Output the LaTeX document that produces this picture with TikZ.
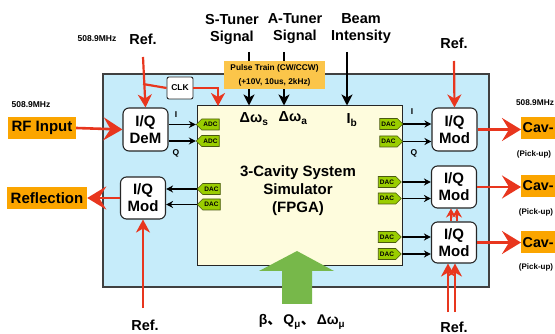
\documentclass[tikz,border=0pt]{standalone}
\usepackage{fontspec}
\setmainfont{Liberation Sans}
\newfontfamily\cjk{Noto Sans CJK SC}
\usetikzlibrary{arrows.meta,shapes.symbols}
\definecolor{bluefill}{HTML}{C6ECFA}
\definecolor{creamfill}{HTML}{FEFCDD}
\definecolor{myorange}{HTML}{FBA500}
\definecolor{pulseor}{HTML}{FBC54A}
\definecolor{tagg}{HTML}{9ACD00}
\definecolor{tagb}{HTML}{4A5A10}
\definecolor{greenarr}{HTML}{77B84A}
\definecolor{myred}{HTML}{E8361E}
\tikzset{
  big/.style={font=\bfseries\fontsize{14.5}{17}\selectfont, align=center, inner sep=0pt},
  sml/.style={font=\bfseries\fontsize{8.5}{10}\selectfont, inner sep=0pt},
  iqbox/.style={draw=black!85, line width=1.1pt, fill=white, rounded corners=6pt,
    minimum width=45pt, minimum height=42pt, font=\bfseries\fontsize{15}{17}\selectfont,
    align=center, inner sep=0pt},
  orbox/.style={fill=myorange, font=\bfseries\fontsize{15}{17}\selectfont, inner sep=0pt,
    minimum height=22pt},
  cavbox/.style={orbox, font=\bfseries\fontsize{14.3}{17}\selectfont, anchor=west,
    minimum width=34pt, inner xsep=1.5pt},
  tagin/.style={signal, signal to=west, fill=tagg, draw=tagb, line width=0.6pt,
    font=\bfseries\fontsize{6.5}{7}\selectfont, minimum width=23pt, minimum height=11pt,
    inner sep=1pt},
  tagout/.style={tagin, signal to=east},
  redarr/.style={draw=myred, line width=2.6pt, -{Stealth[length=19pt,width=23pt,inset=7pt]}},
  redsm/.style={draw=myred, line width=2.2pt, -{Stealth[length=13pt,width=14pt,inset=4pt]}},
  redtiny/.style={draw=myred, line width=1.8pt, -{Stealth[length=9pt,width=10pt,inset=3pt]}},
  redline/.style={draw=myred, line width=2.2pt},
  blk/.style={draw=black, line width=1.2pt, -{Stealth[length=7pt,width=7pt]}},
  blkbig/.style={draw=black, line width=1.6pt, -{Stealth[length=11pt,width=11pt,inset=3pt]}},
}
\begin{document}
\begin{tikzpicture}[x=1pt,y=-1pt]
\useasboundingbox (0,0) rectangle (555,334);
\clip (0,0) rectangle (555,334);
\fill[white] (0,0) rectangle (555,334);

% boxes
\node[draw=black!75, line width=1.2pt, fill=bluefill, minimum width=386pt, minimum height=213pt, inner sep=0pt] (outer) at (296,180.5) {};
\node[draw=black!85, line width=1pt, fill=creamfill, minimum width=205pt, minimum height=160pt, inner sep=0pt] (fpga) at (299.5,186) {};
\node[big, font=\bfseries\fontsize{15}{18}\selectfont] (fpgatxt) at (298,191) {3-Cavity System\\Simulator\\(FPGA)};

% green arrow
\fill[greenarr] (282,304) -- (312,304) -- (312,271) -- (334,271) -- (297,251) -- (259,271) -- (282,271) -- cycle;
\node[big, font=\bfseries\fontsize{14}{17}\selectfont] (params) at (302,322)
  {β{\cjk 、}\hspace{2pt}Q\textsubscript{μ}{\cjk 、}\hspace{2pt}Δω\textsubscript{μ}};

% left: demodulator
\node[sml] (f1) at (97,39) {508.9MHz};
\node[big] (refTL) at (143,39) {Ref.};
\node[sml] (f2) at (31,105) {508.9MHz};
\node[orbox, minimum width=68pt] (rf) at (42,128) {RF Input};
\node[iqbox, minimum height=43pt] (dem) at (145.5,129.5) {I/Q\\DeM};
\node[draw=black!85, line width=0.9pt, fill=white, rounded corners=2pt, minimum width=26pt, minimum height=22pt, inner sep=0pt, font=\bfseries\fontsize{8.5}{10}\selectfont] (clk) at (180,88) {CLK};
\node[tagin] (adc1) at (210.5,124.5) {ADC};
\node[tagin] (adc2) at (210.5,141) {ADC};
\node[sml] (li) at (176,115) {I};
\node[sml] (lq) at (176,153) {Q};

\coordinate (refTLs) at (143,57);
\coordinate (clkBr) at (143,84);
\coordinate (clkIn) at (218,106);
\draw[redsm] (refTLs) -- (dem.north);
\draw[redline] (clkBr) -- (clk.west);
\draw[redsm] (clk.east) -| (clkIn);
\draw[redarr] (rf.east) -- (dem.west);
\draw[blk] (dem.east |- adc1.west) -- (adc1.west);
\draw[blk] (dem.east |- adc2.west) -- (adc2.west);

% left: reflection
\node[iqbox] (modL) at (143,198) {I/Q\\Mod};
\node[orbox, minimum width=80pt] (refl) at (47,198) {Reflection};
\node[tagin] (dl1) at (211.5,189) {DAC};
\node[tagin] (dl2) at (211.5,204.5) {DAC};
\node[big] (refBL) at (145,325) {Ref.};
\coordinate (refBLs) at (143,308);
\draw[blk] (dl1.west) -- (dl1.west -| modL.east);
\draw[blk] (dl2.west) -- (dl2.west -| modL.east);
\draw[redarr] (modL.west) -- (refl.east);
\draw[redsm] (refBLs) -- (modL.south);

% top signals
\node[big] (stun) at (232,29) {S-Tuner\\Signal};
\node[big] (atun) at (295,29) {A-Tuner\\Signal};
\node[big] (beam) at (361,29) {Beam\\Intensity};
\coordinate (sTop) at (249,52);
\coordinate (aTop) at (284,52);
\coordinate (bTop) at (347,52);
\draw[blkbig] (sTop) -- (sTop |- fpga.north);
\draw[blkbig] (aTop) -- (aTop |- fpga.north);
\draw[blkbig] (bTop) -- (bTop |- fpga.north);
\node[fill=pulseor, font=\bfseries\fontsize{8.3}{14}\selectfont, align=center, minimum width=101pt, minimum height=28pt, inner sep=0pt] (pulse) at (274.5,75) {Pulse Train (CW/CCW)\\(+10V, 10us, 2kHz)};
\node[big] (dws) at (254,119) {Δω\textsubscript{s}};
\node[big] (dwa) at (293,118) {Δω\textsubscript{a}};
\node[big] (ib) at (352,120) {I\textsubscript{b}};

% right side
\node[big] (refTR) at (454,43) {Ref.};
\coordinate (refTRs) at (454,61);
\node[iqbox, minimum height=43pt] (mod1) at (454.5,129.5) {I/Q\\Mod};
\node[iqbox] (mod2) at (454,187) {I/Q\\Mod};
\node[iqbox, minimum height=41pt] (mod3) at (454,242.5) {I/Q\\Mod};
\node[tagout] (d1a) at (388.5,124) {DAC};
\node[tagout] (d1b) at (388.5,141.5) {DAC};
\node[tagout] (d2a) at (387,182) {DAC};
\node[tagout] (d2b) at (387,198.5) {DAC};
\node[tagout] (d3a) at (387,237) {DAC};
\node[tagout] (d3b) at (387,254) {DAC};
\node[sml] (ri) at (412,112) {I};
\node[sml] (rq) at (414,153) {Q};
\draw[blk] (d1a.east) -- (d1a.east -| mod1.west);
\draw[blk] (d1b.east) -- (d1b.east -| mod1.west);
\draw[blk] (d2a.east) -- (d2a.east -| mod2.west);
\draw[blk] (d2b.east) -- (d2b.east -| mod2.west);
\draw[blk] (d3a.east) -- (d3a.east -| mod3.west);
\draw[blk] (d3b.east) -- (d3b.east -| mod3.west);
\draw[redsm] (refTRs) -- (mod1.north);

\node[sml, font=\bfseries\fontsize{8.3}{10}\selectfont] (f3) at (535,103) {508.9MHz};
\node[cavbox] (cav1) at (521,128) {Cav-};
\node[cavbox] (cav2) at (521,186) {Cav-};
\node[cavbox] (cav3) at (521,242.5) {Cav-};
\node[sml, font=\bfseries\fontsize{8}{10}\selectfont] (pu1) at (534,154) {(Pick-up)};
\node[sml, font=\bfseries\fontsize{8}{10}\selectfont] (pu2) at (536,212) {(Pick-up)};
\node[sml, font=\bfseries\fontsize{8}{10}\selectfont] (pu3) at (536,267) {(Pick-up)};
\draw[redarr] (mod1.east) -- (mod1.east -| cav1.west);
\draw[redarr] (mod2.east) -- (mod2.east -| cav2.west);
\draw[redarr] (mod3.east) -- (mod3.east -| cav3.west);

% cascaded ref
\draw[redtiny] ([xshift=-3pt]mod3.north) -- ([xshift=-3pt]mod2.south);
\draw[redtiny] ([xshift=3pt]mod3.north) -- ([xshift=3pt]mod2.south);
\node[big] (refBR) at (454,327) {Ref.};
\coordinate (rb1) at (448,312);
\coordinate (rb2) at (455,312);
\draw[redsm] (rb1) -- (rb1 |- mod3.south);
\draw[redsm] (rb2) -- (rb2 |- mod3.south);
\end{tikzpicture}
\end{document}
